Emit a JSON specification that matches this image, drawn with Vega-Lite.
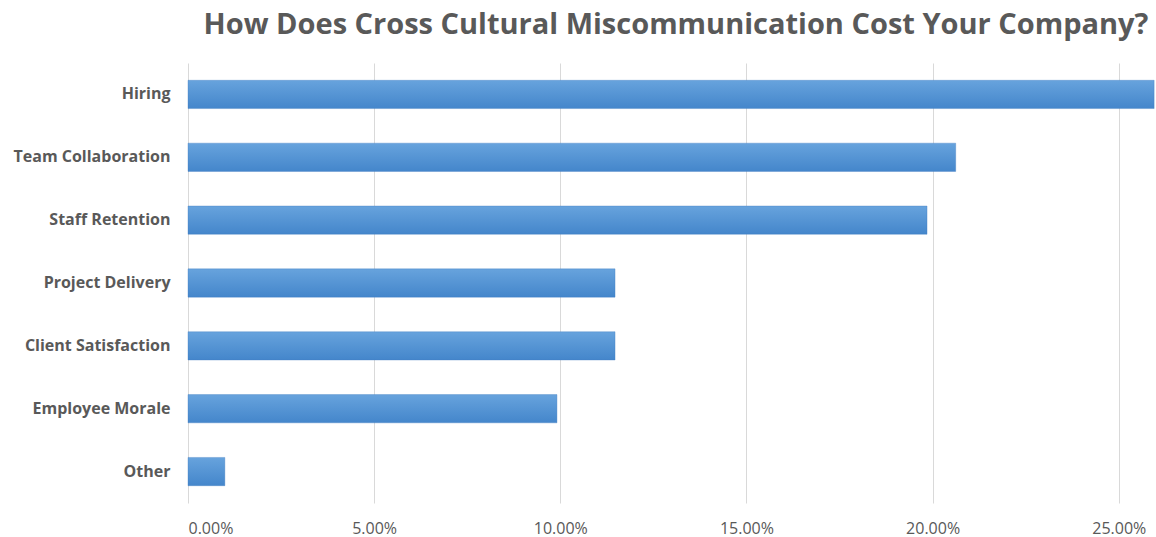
{
  "$schema": "https://vega.github.io/schema/vega-lite/v6.json",
  "autosize": {"type": "none"},
  "padding": {"left": 188, "top": 63, "right": 0, "bottom": 34},
  "width": 968,
  "height": 440,
  "background": "white",
  "title": {
    "text": "How Does Cross Cultural Miscommunication Cost Your Company?",
    "font": "Open Sans",
    "fontSize": 29,
    "fontWeight": "bold",
    "color": "#595959",
    "anchor": "middle",
    "dx": 4,
    "offset": 23
  },
  "data": {
    "values": [
      {"category": "Hiring", "value": 0.2595},
      {"category": "Team Collaboration", "value": 0.2062},
      {"category": "Staff Retention", "value": 0.1985},
      {"category": "Project Delivery", "value": 0.1147},
      {"category": "Client Satisfaction", "value": 0.1147},
      {"category": "Employee Morale", "value": 0.0991},
      {"category": "Other", "value": 0.0099}
    ]
  },
  "mark": {
    "type": "bar",
    "color": {
      "gradient": "linear",
      "x1": 0, "y1": 0, "x2": 0, "y2": 1,
      "stops": [
        {"offset": 0, "color": "#67A3DD"},
        {"offset": 1, "color": "#4486CB"}
      ]
    },
    "stroke": "#3f7cc0",
    "strokeOpacity": 0.35,
    "strokeWidth": 1
  },
  "encoding": {
    "y": {
      "field": "category",
      "type": "nominal",
      "sort": null,
      "scale": {"paddingInner": 0.55, "paddingOuter": 0.275},
      "axis": {
        "title": null,
        "domain": false,
        "ticks": false,
        "grid": false,
        "labelFont": "Open Sans",
        "labelFontSize": 16,
        "labelFontWeight": "bold",
        "labelColor": "#595959",
        "labelPadding": 18
      }
    },
    "x": {
      "field": "value",
      "type": "quantitative",
      "scale": {"domain": [0, 0.26], "nice": false},
      "axis": {
        "title": null,
        "format": ".2%",
        "values": [0, 0.05, 0.1, 0.15, 0.2, 0.25],
        "domain": false,
        "ticks": false,
        "grid": true,
        "gridColor": "#d9d9d9",
        "gridWidth": 1,
        "labelFont": "Open Sans",
        "labelFontSize": 16,
        "labelColor": "#595959",
        "labelPadding": 17
      }
    }
  },
  "config": {
    "view": {"stroke": null}
  }
}
